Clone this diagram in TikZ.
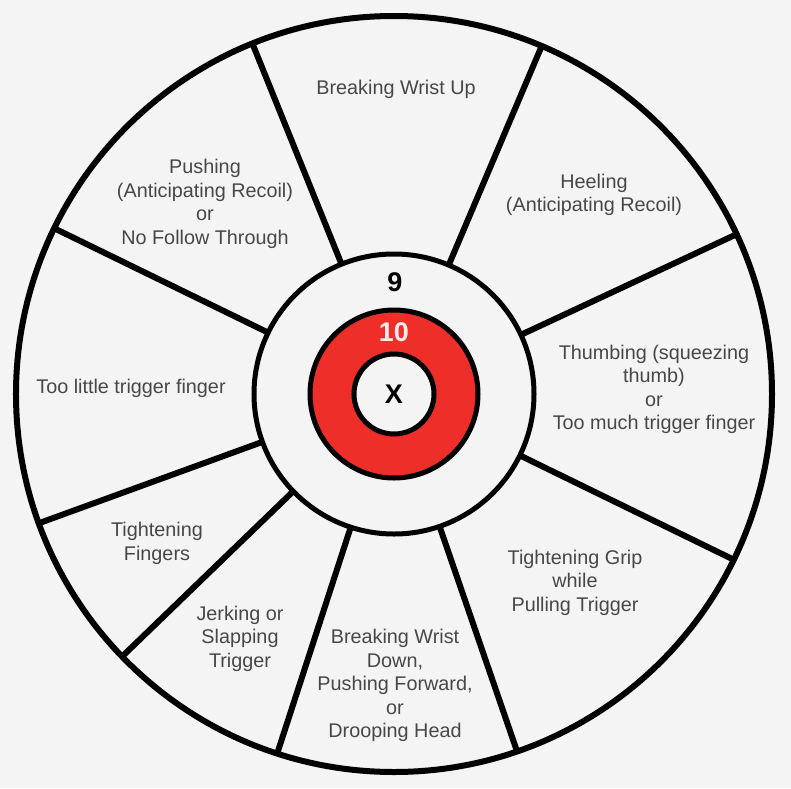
\documentclass[tikz,border=0pt]{standalone}
\usepackage{fontspec}
\setmainfont{Liberation Sans}
\usetikzlibrary{positioning}
\definecolor{paperGray}{RGB}{244,244,244}
\definecolor{targetRed}{RGB}{238,46,40}
\newcommand{\myLabelColor}{black!72}

\begin{document}
\begin{tikzpicture}[x=1pt,y=1pt,
	Spoke/.style={-,black,line width=6pt},
	Ring/.style={circle,draw=black,line width=5pt,outer sep=0pt,inner sep=0pt},
	Label/.style={align=center,text=\myLabelColor,font=\fontsize{19.8}{23.5}\selectfont,inner sep=0pt},
	Score/.style={inner sep=0pt,font=\fontsize{27}{27}\selectfont\bfseries},
]
	%\draw[help lines,step=10,gray!20] (-394,-394) grid (397,394);
	\fill[paperGray] (-394,-394) rectangle (397,394);
	\node[Ring,line width=6pt,fill=paperGray,minimum size=756pt] (O) at (0,0) {};
	\node[Ring,fill=paperGray,minimum size=280pt] (N) at (0,0) {};
	\node[Ring,fill=targetRed,minimum size=168pt] (T) at (0,0) {};
	\node[Ring,fill=paperGray,minimum size=80pt,Score] (X) at (0,0) {X};
	\node[Score] (L9) at (1,112) {9};
	\node[Score,text=red!8!white] (L10) at (0,62) {10};

	\node[Label] (A) at (2,304.5) {Breaking Wrist Up};
	\node[Label] (B) at (200,199) {Heeling\\(Anticipating Recoil)};
	\node[Label] (C) at (260,4.5) {Thumbing (squeezing\\thumb)\\or\\Too much trigger finger};
	\node[Label] (D) at (181,-188.5) {Tightening Grip\\while\\Pulling Trigger};
	\node[Label] (E) at (1,-291.5) {Breaking Wrist\\Down,\\Pushing Forward,\\or\\Drooping Head};
	\node[Label] (F) at (-154,-244.5) {Jerking or\\Slapping\\Trigger};
	\node[Label] (G) at (-237,-149.5) {Tightening\\Fingers};
	\node[Label] (H) at (-263,5.5) {Too little trigger finger};
	\node[Label] (I) at (-189,190) {Pushing\\(Anticipating Recoil)\\or\\No Follow Through};

	\path[Spoke]
	(N.112) edge (O.112)
	(N.67) edge (O.67)
	(N.25.5) edge (O.25.5)
	(N.-26) edge (O.-26)
	(N.-71) edge (O.-71)
	(N.-108) edge (O.-108)
	(N.-136) edge (O.-136)
	(N.-160) edge (O.-160)
	(N.154) edge (O.154)
	;
\end{tikzpicture}
\end{document}
